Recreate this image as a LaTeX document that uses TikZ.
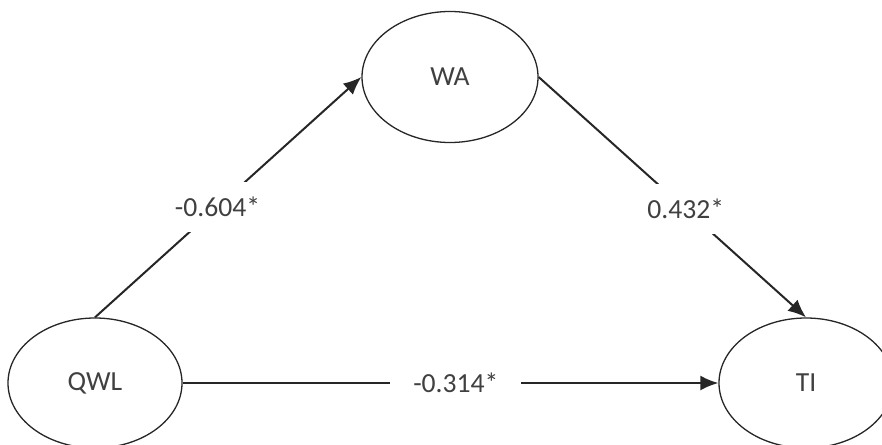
\documentclass[tikz,border=0pt]{standalone}
\usepackage{fontspec}
\setmainfont{Carlito}
\usetikzlibrary{shapes.geometric,arrows.meta}
\definecolor{txtgray}{HTML}{404040}
\definecolor{linegray}{HTML}{262626}
\tikzset{
  var/.style={ellipse,draw=linegray,line width=0.65pt,inner sep=0pt,
    minimum width=87pt,minimum height=65pt,text=txtgray},
  coef/.style={fill=white,text=txtgray,inner xsep=11.5pt,minimum height=25pt},
  link/.style={draw=linegray,line width=1pt,-{Latex[length=9pt,width=7.5pt]}}
}
\begin{document}
\begin{tikzpicture}[x=0.5pt,y=-0.5pt,font=\fontsize{13.8}{16}\selectfont]
\useasboundingbox (0,0) rectangle (882,444);
\node[var] (QWL) at (95,383) {QWL};
\node[var,minimum width=88pt,minimum height=65.5pt] (WA) at (450,77) {WA};
\node[var] (TI) at (806,383) {TI};
\draw[link] (QWL.north) -- node[coef,pos=0.46] (c1) {-0.604*} (WA.west);
\draw[link] (WA.east) -- node[coef,pos=0.55] (c2) {0.432*} (TI.north);
\draw[link] (QWL.east) -- node[coef,pos=0.51] (c3) {-0.314*} (TI.west);
\end{tikzpicture}
\end{document}
